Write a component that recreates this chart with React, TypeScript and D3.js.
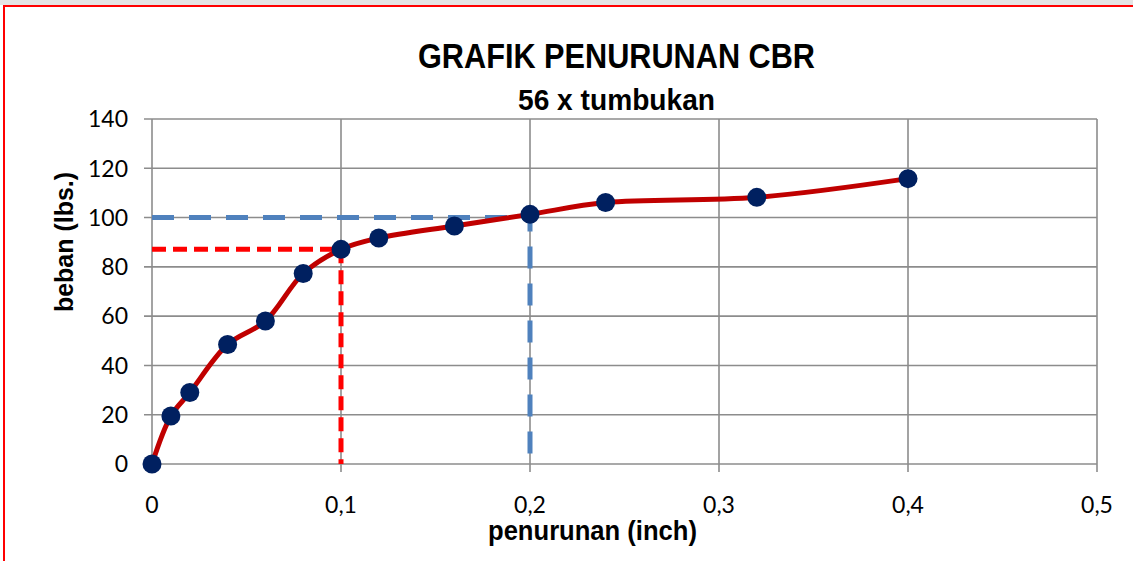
import React from "react";
import * as d3 from "d3";

// penurunan (inch) vs beban (lbs.)
const penurunan = [0, 0.01, 0.02, 0.04, 0.06, 0.08, 0.1, 0.12, 0.16, 0.2, 0.24, 0.32, 0.4];
const beban = [0, 19.5, 29, 48.5, 58, 77.3, 87.1, 91.7, 96.6, 101.3, 106.1, 108.2, 115.8];
const xTicks = [0, 0.1, 0.2, 0.3, 0.4, 0.5];
const yTicks = [0, 20, 40, 60, 80, 100, 120, 140];
// reading guides: load at 0.1" and 0.2"
const guideRed = [[0, 87.1], [0.1, 87.1], [0.1, 0]];
const guideBlue = [[0, 100], [0.2, 100], [0.2, 0]];

const W = 1133;
const H = 561;

const App = () => {
  const x = d3.scaleLinear().domain([0, 0.5]).range([152, 1097]);
  const y = d3.scaleLinear().domain([0, 140]).range([464, 119]);

  const pts = penurunan.map((v, i) => [v, beban[i]]);
  const curve = d3
    .line()
    .x((d) => x(d[0]))
    .y((d) => y(d[1]))
    .curve(d3.curveCatmullRom.alpha(0.5));
  const straight = d3
    .line()
    .x((d) => x(d[0]))
    .y((d) => y(d[1]));

  const fmt = (v) => String(v).replace(".", ",");
  const tickFont = "Lato, 'Open Sans', sans-serif";
  // narrow bold look: squeeze Liberation Sans to the reference widths
  const titleFont = "'Liberation Sans', Arial, sans-serif";

  return (
    <svg
      width={W}
      height={H}
      style={{ position: "absolute", left: 0, top: 0, background: "#fff" }}
    >
      <rect x={0} y={0} width={W} height={5} fill="#e4e4e4" />
      <rect x={4} y={6} width={W + 20} height={H + 20} fill="#fff" stroke="#ff0000" strokeWidth={2} />

      {/* grid */}
      {yTicks.map((t) => (
        <line key={"h" + t} x1={144} x2={x(0.5)} y1={y(t)} y2={y(t)} stroke="#8c8c8c" strokeWidth={1.6} />
      ))}
      {xTicks.map((t) => (
        <line key={"v" + t} x1={x(t)} x2={x(t)} y1={y(140)} y2={472} stroke="#8c8c8c" strokeWidth={1.6} />
      ))}

      {/* tick labels */}
      {yTicks.map((t) => (
        <text key={"yl" + t} x={128} y={y(t)} dy="0.36em" textAnchor="end" fontFamily={tickFont} fontSize={23} fill="#000">
          {t}
        </text>
      ))}
      {xTicks.map((t) => (
        <text key={"xl" + t} x={x(t)} y={513} textAnchor="middle" fontFamily={tickFont} fontSize={23} fill="#000">
          {fmt(t)}
        </text>
      ))}

      {/* guides */}
      <path d={straight(guideBlue)} fill="none" stroke="#4f81bd" strokeWidth={5} strokeDasharray="22 15" />
      <path d={straight(guideRed)} fill="none" stroke="#ff0000" strokeWidth={5} strokeDasharray="14 7" />

      {/* series */}
      <path d={curve(pts)} fill="none" stroke="#c00000" strokeWidth={5} />
      {pts.map((d, i) => (
        <circle key={i} cx={x(d[0])} cy={y(d[1])} r={9.5} fill="#002060" />
      ))}

      {/* titles */}
      <text x={418} y={68} textLength={397} lengthAdjust="spacingAndGlyphs" fontFamily={titleFont} fontWeight="bold" fontSize={35} fill="#000">
        GRAFIK PENURUNAN CBR
      </text>
      <text x={518} y={110} textLength={197} lengthAdjust="spacingAndGlyphs" fontFamily={titleFont} fontWeight="bold" fontSize={29} fill="#000">
        56 x tumbukan
      </text>
      <text x={488} y={540} textLength={209} lengthAdjust="spacingAndGlyphs" fontFamily={titleFont} fontWeight="bold" fontSize={27} fill="#000">
        penurunan (inch)
      </text>
      <text
        transform={`translate(73,312) rotate(-90)`}
        textLength={140}
        lengthAdjust="spacingAndGlyphs"
        fontFamily={titleFont}
        fontWeight="bold"
        fontSize={26}
        fill="#000"
      >
        beban (lbs.)
      </text>
    </svg>
  );
};

export default App;
